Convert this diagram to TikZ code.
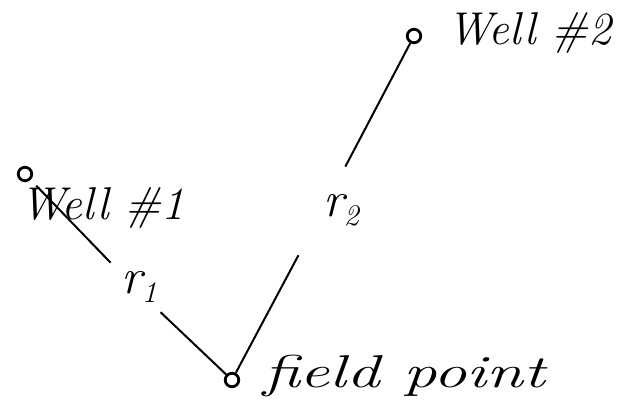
\documentclass[tikz,border=0pt]{standalone}
\usepackage{graphicx}
\newcommand{\rsub}[1]{r\raisebox{-9pt}{\fontsize{30}{30}\selectfont #1}}
\begin{document}
\begin{tikzpicture}[x=1pt,y=-1pt,
  well/.style={draw,circle,line width=2.8pt,minimum size=13.5pt,inner sep=0pt},
  gap/.style={circle,inner sep=0pt,minimum size=#1},
  lab/.style={inner sep=0pt,anchor=base west,font=\fontsize{46}{46}\selectfont\itshape},
  rlab/.style={inner sep=0pt,font=\fontsize{50}{50}\selectfont\itshape},
  conn/.style={line width=2pt}]
\useasboundingbox[fill=white] (0,0) rectangle (619,403);
\node[well] (w1) at (25,174) {};
\node[well] (w2) at (414,36) {};
\node[well] (fp) at (232,380) {};
\node[gap=70pt] (g1) at (135,288) {};
\node[gap=100pt] (g2) at (322,211) {};
\node[lab] (t1) at (20,220) {Well \#1};
\node[lab] (t2) at (447,45) {Well \#2};
\node[lab] (t3) at (263,388) {\scalebox{1.45}[1]{field point}};
\node[rlab] (r1) at (139,287) {\rsub{1}};
\node[rlab] (r2) at (341,210) {\rsub{2}};
\draw[conn,shorten >=8pt] (g1) -- (w1);
\draw[conn] (g1) -- (fp);
\draw[conn] (fp) -- (g2);
\draw[conn] (g2) -- (w2);
\end{tikzpicture}
\end{document}
